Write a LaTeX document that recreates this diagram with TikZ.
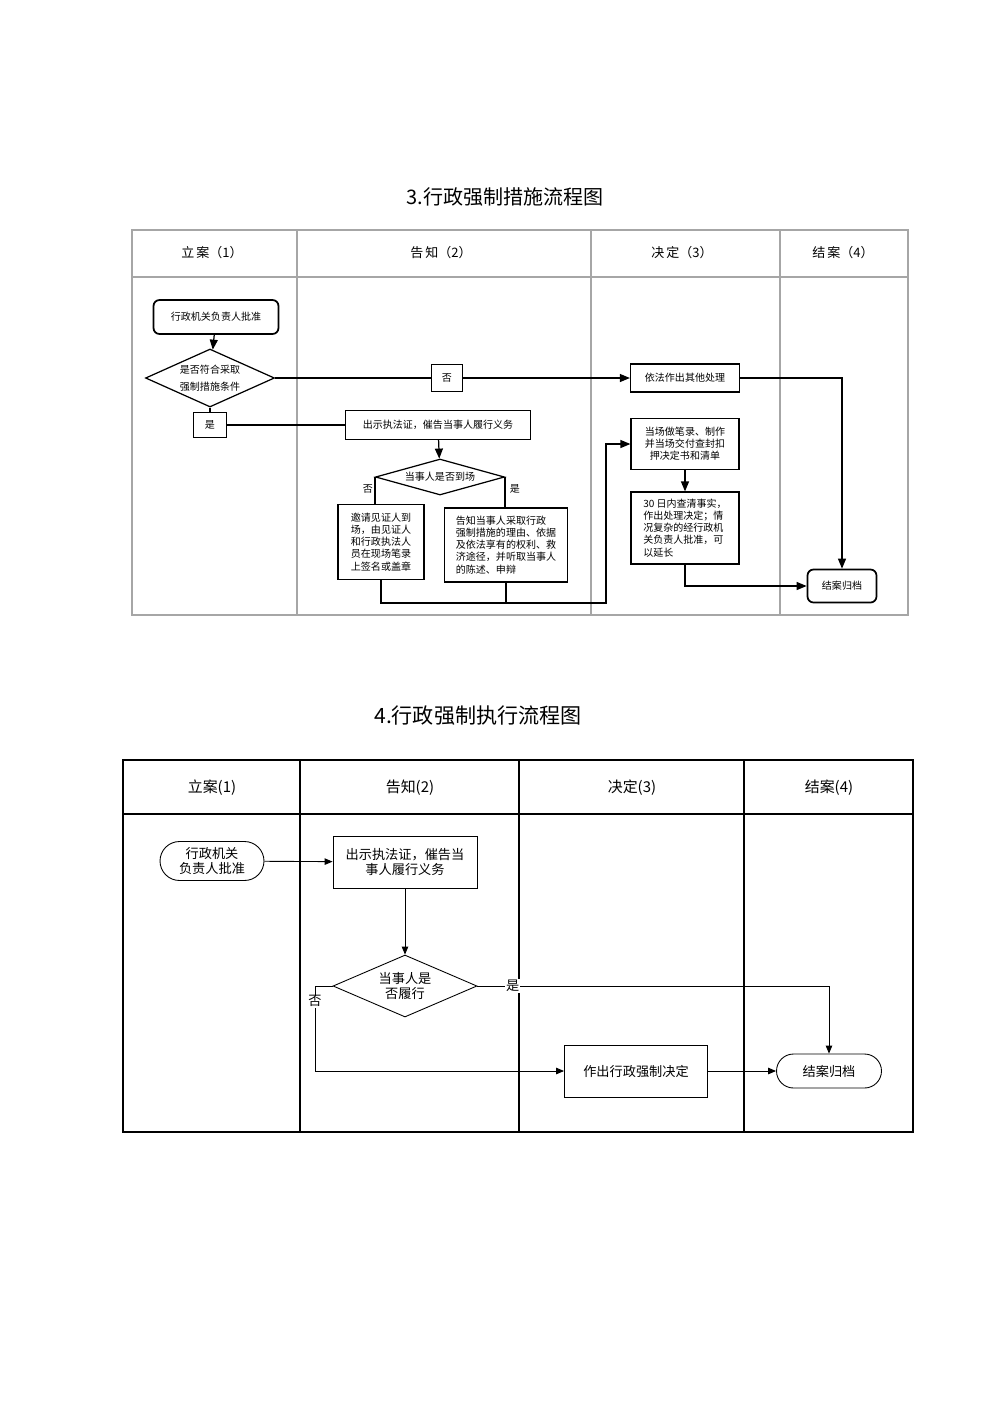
\documentclass[tikz,border=0pt]{standalone}
\usepackage{fontspec}
\setmainfont{Noto Sans CJK SC}
\usetikzlibrary{shapes.geometric,arrows.meta}

\begin{document}
\begin{tikzpicture}[x=0.02cm,y=-0.02cm,
    box/.style ={rectangle, draw, line width=0.7pt, inner sep=1pt, font=\fontsize{5.7pt}{6.9pt}\selectfont},
    terminal/.style ={rectangle, draw, line width=1pt, rounded corners=0.12cm, font=\fontsize{5.7pt}{6.9pt}\selectfont},
    decision/.style ={diamond, draw, line width=0.7pt, inner sep=0pt, font=\fontsize{5.7pt}{9.6pt}\selectfont},
    pbox/.style ={rectangle, draw, line width=0.5pt, font=\fontsize{7.5pt}{8.5pt}\selectfont},
    pround/.style ={rectangle, draw, line width=0.5pt, font=\fontsize{7.5pt}{8.5pt}\selectfont},
    pdecision/.style ={diamond, draw, line width=0.5pt, inner sep=0pt, font=\fontsize{7.5pt}{8.5pt}\selectfont},
    arr/.style ={line width=0.7pt, -{Triangle[length=2mm,width=1.6mm]}},
    link/.style ={line width=0.7pt},
    parr/.style ={line width=0.5pt, -{Triangle[length=1.6mm,width=1.3mm]}},
    plink/.style ={line width=0.5pt}]
   \useasboundingbox[fill=white] (0,0) rectangle (1000,1414);

   % measures
   \node (title1) at (505,197) {\fontsize{11.4pt}{12pt}\selectfont 3.行政强制措施流程图};
   \draw[gray!70, line width=0.6pt] (132,230) rectangle (908,615);
   \draw[gray!70, line width=0.6pt] (132,277) -- (908,277);
   \draw[gray!70, line width=0.6pt] (297,230) -- (297,615);
   \draw[gray!70, line width=0.6pt] (591,230) -- (591,615);
   \draw[gray!70, line width=0.6pt] (780,230) -- (780,615);
   \node (h1) at (212,253) {\fontsize{7.4pt}{8pt}\selectfont 立\,案（1）};
   \node (h2) at (441,253) {\fontsize{7.4pt}{8pt}\selectfont 告\,知（2）};
   \node (h3) at (682,253) {\fontsize{7.4pt}{8pt}\selectfont 决\,定（3）};
   \node (h4) at (843,253) {\fontsize{7.4pt}{8pt}\selectfont 结\,案（4）};

   \node[terminal, minimum width=2.5cm, minimum height=0.68cm] (approve) at (216,317) {行政机关负责人批准};
   \node[decision, minimum width=2.58cm, minimum height=1.16cm, shape aspect=2.2, align=center] (meet) at (210,378) {是否符合采取\\强制措施条件};
   \node[box, minimum width=0.66cm, minimum height=0.5cm] (yes) at (210,425) {是};
   \node[box, minimum width=0.62cm, minimum height=0.54cm] (no) at (447,378) {否};
   \node[box, minimum width=2.18cm, minimum height=0.56cm] (other) at (685,378) {依法作出其他处理};
   \node[box, minimum width=3.7cm, minimum height=0.58cm] (notify) at (438,425) {出示执法证，催告当事人履行义务};
   \node[decision, minimum width=2.58cm, minimum height=0.72cm, shape aspect=3.6] (present) at (440,477) {当事人是否到场};
   \node[box, minimum width=1.72cm, minimum height=1.5cm, align=left] (witness) at (381,542)
      {邀请见证人到\\场，由见证人\\和行政执法人\\员在现场笔录\\上签名或盖章};
   \node[box, minimum width=2.46cm, minimum height=1.48cm, align=left] (inform) at (506,545)
      {告知当事人采取行政\\强制措施的理由、依据\\及依法享有的权利、救\\济途径，并听取当事人\\的陈述、申辩};
   \node[box, minimum width=2.16cm, minimum height=1.02cm, align=center] (onsite) at (685,444)
      {当场做笔录、制作\\并当场交付查封扣\\押决定书和清单};
   \node[box, minimum width=2.16cm, minimum height=1.44cm, align=left] (verify) at (685,528)
      {30 日内查清事实，\\作出处理决定；情\\况复杂的经行政机\\关负责人批准，可\\以延长};
   \node[terminal, minimum width=1.38cm, minimum height=0.66cm] (close) at (842,586) {结案归档};
   \coordinate (join) at (606,603);

   \draw[arr] (approve) -- (meet);
   \draw[link] (meet) -- (yes);
   \draw[link] (yes) -- (notify);
   \draw[link] (meet) -- (no);
   \draw[arr] (no) -- (other);
   \draw[arr] (other.east) -| (close.north);
   \draw[arr] (notify) -- (present);
   \draw[link] (present.west) -- (present.west |- witness.north);
   \draw[link] (present.east) -- (present.east |- inform.north);
   \node[font=\fontsize{5.7pt}{6pt}\selectfont] (presno) at (368,489) {否};
   \node[font=\fontsize{5.7pt}{6pt}\selectfont] (presyes) at (515,489) {是};
   \draw[arr] (witness.south) |- (join) |- (onsite.west);
   \draw[link] (inform.south) -- (inform.south |- join);
   \draw[arr] (onsite) -- (verify);
   \draw[arr] (verify.south) |- (close.west);

   % enforcement
   \node (title2) at (478,716) {\fontsize{12pt}{13pt}\selectfont 4.行政强制执行流程图};
   \draw[line width=0.7pt] (123,760) rectangle (913,1132);
   \draw[line width=0.7pt] (123,814) -- (913,814);
   \draw[line width=0.7pt] (300,760) -- (300,1132);
   \draw[line width=0.7pt] (519,760) -- (519,1132);
   \draw[line width=0.7pt] (744,760) -- (744,1132);
   \node (g1) at (212,788) {\fontsize{8.5pt}{9pt}\selectfont 立案(1)};
   \node (g2) at (410,788) {\fontsize{8.5pt}{9pt}\selectfont 告知(2)};
   \node (g3) at (632,788) {\fontsize{8.5pt}{9pt}\selectfont 决定(3)};
   \node (g4) at (829,788) {\fontsize{8.5pt}{9pt}\selectfont 结案(4)};

   \node[pround, rounded corners=0.39cm, minimum width=2.08cm, minimum height=0.78cm, align=center] (approve2) at (212,861) {行政机关\\负责人批准};
   \node[pbox, minimum width=2.88cm, minimum height=1.04cm, align=center] (urge) at (405,862) {出示执法证，催告当\\事人履行义务};
   \node[pdecision, minimum width=2.88cm, minimum height=1.24cm, shape aspect=2.3, align=center] (perform) at (405,986) {当事人是\\否履行};
   \node[pbox, minimum width=2.86cm, minimum height=1.04cm] (decide) at (636,1071) {作出行政强制决定};
   \node[pround, rounded corners=0.34cm, minimum width=2.1cm, minimum height=0.68cm] (close2) at (829,1071) {结案归档};
   \coordinate (bend) at (315,986);

   \draw[parr] (approve2) -- (urge);
   \draw[parr] (urge) -- (perform);
   \draw[parr] (perform.east) -| node[pos=0.05, fill=white, inner sep=0.5pt, font=\fontsize{7.5pt}{8pt}\selectfont] {是} (close2.north);
   \draw[parr] (perform.west) -- (bend) |- node[pos=0.09, fill=white, inner sep=0.5pt, font=\fontsize{7.5pt}{8pt}\selectfont] {否} (decide.west);
   \draw[parr] (decide) -- (close2);
\end{tikzpicture}
\end{document}
